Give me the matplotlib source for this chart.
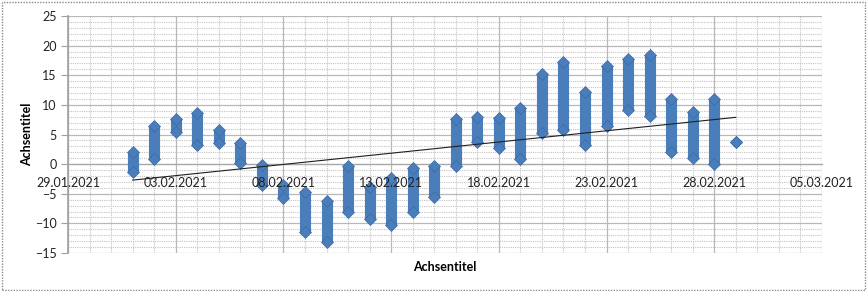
import matplotlib
matplotlib.use("Agg")
import matplotlib.pyplot as plt
import matplotlib.dates as mdates
from matplotlib.patches import Rectangle
import pandas as pd

# one column of readings per day: lowest and highest value
days = pd.date_range("2021-02-01", "2021-03-01", freq="D")
day_min = [-1.3, 0.9, 5.5, 3.3, 3.6, 0.2, -3.5, -5.8, -11.5, -13.2,
           -8.0, -9.3, -10.2, -8.0, -5.6, -0.4, 3.8, 2.7, 0.8, 5.2,
           5.7, 3.2, 6.5, 9.1, 8.2, 2.1, 1.0, 0.0, 3.7]
day_max = [2.0, 6.4, 7.7, 8.7, 5.8, 3.5, -0.1, -3.6, -4.7, -6.3,
           -0.3, -3.8, -2.3, -0.6, -0.3, 7.6, 8.0, 7.8, 9.5, 15.2,
           17.2, 12.2, 16.6, 17.7, 18.4, 11.0, 8.8, 11.0, 3.7]

# linear trend line, read at its two ends
trend_dates = pd.to_datetime(["2021-02-01", "2021-03-01"])
trend_vals = [-2.7, 7.9]

blue = "#4a7ebb"
edge = "#3b68a3"

plt.rcParams["font.family"] = ["Lato", "DejaVu Sans"]

fig = plt.figure(figsize=(8.68, 2.91), dpi=100)
pos = [68 / 868, 1 - 253 / 291, 754 / 868, 237 / 291]
ax = fig.add_axes(pos)

ax.vlines(days, day_min, day_max, colors=blue, linewidth=8, zorder=3)
ax.plot(days, day_min, "D", color=blue, markeredgecolor=edge, markersize=5.8,
        markeredgewidth=0.5, zorder=4)
ax.plot(days, day_max, "D", color=blue, markeredgecolor=edge, markersize=5.8,
        markeredgewidth=0.5, zorder=4)
ax.plot(trend_dates, trend_vals, color="#202020", linewidth=0.8, zorder=5)

ax.set_xlim(pd.Timestamp("2021-01-29"), pd.Timestamp("2021-03-05"))
ax.set_ylim(-15, 25)
ax.set_yticks(range(-15, 26, 5))
ax.set_yticks(range(-15, 26, 1), minor=True)
ax.set_xticks(pd.date_range("2021-01-29", "2021-03-05", freq="5D"))
ax.set_xticks(pd.date_range("2021-01-29", "2021-03-05", freq="D"), minor=True)
ax.xaxis.set_major_formatter(mdates.DateFormatter("%d.%m.%Y"))

ax.grid(which="major", color="#b8b8b8", linewidth=0.9, linestyle="-")
ax.grid(which="minor", color="#c4c4c4", linewidth=0.8, linestyle=(0, (1, 1)))
ax.set_axisbelow(True)

for s in ["top", "right"]:
    ax.spines[s].set_visible(False)
ax.spines["left"].set_color("#a0a0a0")
ax.spines["left"].set_linewidth(1.2)
ax.spines["bottom"].set_position(("data", 0))
ax.spines["bottom"].set_color("#a8a8a8")
ax.spines["bottom"].set_linewidth(0.9)

ax.tick_params(axis="y", which="major", length=5, color="#a0a0a0",
               labelsize=9, labelcolor="#222222", pad=3)
ax.tick_params(axis="y", which="minor", length=0)
ax.tick_params(axis="x", which="both", length=0, labelbottom=False)

# date labels sit on top of the columns, as in Excel
top = fig.add_axes(pos, sharex=ax, sharey=ax)
top.patch.set_visible(False)
for s in top.spines.values():
    s.set_visible(False)
top.spines["bottom"].set_position(("data", 0))
top.tick_params(axis="x", which="both", length=0, labelsize=9,
                labelcolor="#222222", pad=9)
top.tick_params(axis="y", which="both", length=0, labelleft=False)

ax.set_xlabel("Achsentitel", fontsize=9, fontweight="bold", labelpad=0)
ax.xaxis.set_label_coords(0.5, -0.035)
ax.set_ylabel("Achsentitel", fontsize=9, fontweight="bold")
ax.yaxis.set_label_coords(-0.046, 0.5)

fig.patches.append(Rectangle((0.002, 0.004), 0.995, 0.99, transform=fig.transFigure,
                             fill=False, edgecolor="#8a8a8a", linewidth=1,
                             linestyle=(0, (1, 1))))

fig.savefig("out.png", dpi=100)
